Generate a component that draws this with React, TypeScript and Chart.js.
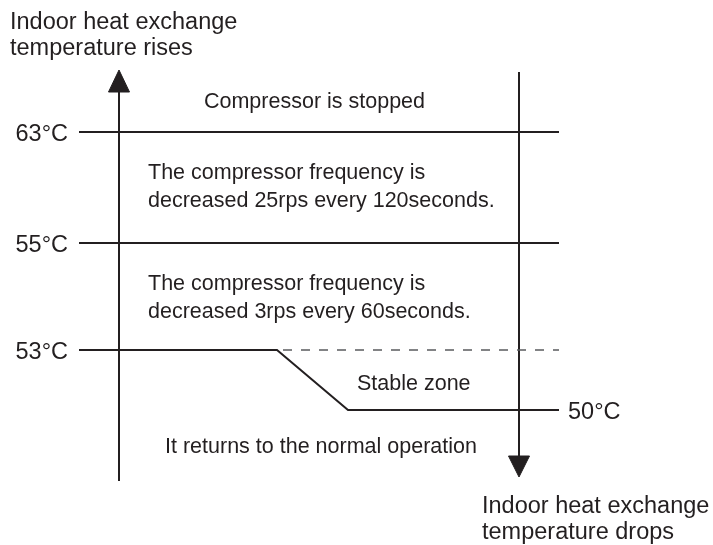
import React, { useEffect, useRef } from "react";
import { Chart, registerables } from "chart.js";

Chart.register(...registerables);

// ---- Diagram data (diagram units: x 0..713, y 0..545 downward) ----
const INK = "#231f20";
const DASH = "#5a5b5d";

// Temperature thresholds and their level on the vertical axis of the diagram
const tempLabels = ["63°C", "55°C", "53°C", "50°C"];
const tempLevels = [132, 243, 350, 410];

// Main axes (up arrow: rising temperature, down arrow: dropping temperature)
const upShaft = [{ x: 119, y: 481 }, { x: 119, y: 88 }];
const upHead = [{ x: 108.5, y: 92 }, { x: 119, y: 70 }, { x: 129.5, y: 92 }, { x: 108.5, y: 92 }];
const downShaft = [{ x: 519, y: 72 }, { x: 519, y: 460 }];
const downHead = [{ x: 508.5, y: 456 }, { x: 519, y: 477 }, { x: 529.5, y: 456 }, { x: 508.5, y: 456 }];

// Threshold lines
const line63 = [{ x: 79, y: tempLevels[0] }, { x: 559, y: tempLevels[0] }];
const line55 = [{ x: 79, y: tempLevels[1] }, { x: 559, y: tempLevels[1] }];
const line53to50 = [
  { x: 79, y: tempLevels[2] },
  { x: 277, y: tempLevels[2] },
  { x: 348, y: tempLevels[3] },
  { x: 559, y: tempLevels[3] },
];
const line53dashed = [{ x: 283, y: tempLevels[2] }, { x: 559, y: tempLevels[2] }];

// Texts
const riseTitle = ["Indoor heat exchange", "temperature rises"];
const dropTitle = ["Indoor heat exchange", "temperature drops"];
const zoneStop = "Compressor is stopped";
const zone25 = ["The compressor frequency is", "decreased 25rps every 120seconds."];
const zone3 = ["The compressor frequency is", "decreased 3rps every 60seconds."];
const zoneStable = "Stable zone";
const zoneNormal = "It returns to the normal operation";

type TextItem = { text: string; x: number; y: number; size: number; align: CanvasTextAlign };

const BIG = 23.5;
const BODY = 21.5;

const textItems: TextItem[] = [
  { text: riseTitle[0], x: 10, y: 29, size: BIG, align: "left" },
  { text: riseTitle[1], x: 10, y: 55, size: BIG, align: "left" },
  { text: dropTitle[0], x: 482, y: 513, size: BIG, align: "left" },
  { text: dropTitle[1], x: 482, y: 539, size: BIG, align: "left" },
  { text: zoneStop, x: 314.5, y: 108, size: BODY, align: "center" },
  { text: zone25[0], x: 148, y: 179, size: BODY, align: "left" },
  { text: zone25[1], x: 148, y: 207, size: BODY, align: "left" },
  { text: zone3[0], x: 148, y: 290, size: BODY, align: "left" },
  { text: zone3[1], x: 148, y: 318, size: BODY, align: "left" },
  { text: zoneStable, x: 357, y: 390, size: BODY, align: "left" },
  { text: zoneNormal, x: 165, y: 453, size: BODY, align: "left" },
  { text: tempLabels[0], x: 68, y: tempLevels[0] + 8.5, size: BIG, align: "right" },
  { text: tempLabels[1], x: 68, y: tempLevels[1] + 8.5, size: BIG, align: "right" },
  { text: tempLabels[2], x: 68, y: tempLevels[2] + 8.5, size: BIG, align: "right" },
  { text: tempLabels[3], x: 568, y: tempLevels[3] + 8.5, size: BIG, align: "left" },
];

const textPlugin = {
  id: "diagramText",
  afterDatasetsDraw(chart: any) {
    const { ctx, scales } = chart;
    const xs = scales.x;
    const ys = scales.y;
    ctx.save();
    ctx.fillStyle = INK;
    ctx.textBaseline = "alphabetic";
    for (const t of textItems) {
      ctx.font = `${t.size}px "Liberation Sans", Arial, sans-serif`;
      ctx.textAlign = t.align;
      ctx.fillText(t.text, xs.getPixelForValue(t.x), ys.getPixelForValue(t.y));
    }
    ctx.restore();
  },
};

function lineDs(data: { x: number; y: number }[], extra: any = {}) {
  return {
    data,
    borderColor: INK,
    borderWidth: 2,
    pointRadius: 0,
    pointHoverRadius: 0,
    tension: 0,
    fill: false,
    borderJoinStyle: "miter",
    ...extra,
  };
}

export default function App() {
  const ref = useRef<HTMLCanvasElement | null>(null);

  useEffect(() => {
    if (!ref.current) return;
    const chart = new Chart(ref.current, {
      type: "line",
      data: {
        datasets: [
          lineDs(line53dashed, { borderColor: DASH, borderWidth: 1.6, borderDash: [9, 9] }),
          lineDs(upShaft),
          lineDs(downShaft),
          lineDs(line63),
          lineDs(line55),
          lineDs(line53to50),
          lineDs(upHead, { fill: "shape", backgroundColor: INK, borderWidth: 1 }),
          lineDs(downHead, { fill: "shape", backgroundColor: INK, borderWidth: 1 }),
        ] as any,
      },
      options: {
        animation: false,
        responsive: false,
        devicePixelRatio: 1,
        layout: { padding: 0 },
        plugins: {
          legend: { display: false },
          tooltip: { enabled: false },
        },
        events: [],
        scales: {
          x: { type: "linear", min: 0, max: 713, display: false },
          y: { type: "linear", min: 0, max: 545, reverse: true, display: false },
        },
      },
      plugins: [textPlugin],
    });
    return () => chart.destroy();
  }, []);

  return (
    <div style={{ position: "fixed", left: 0, top: 0, width: 713, height: 545, background: "#fff" }}>
      <canvas ref={ref} width={713} height={545} style={{ width: 713, height: 545, display: "block" }} />
    </div>
  );
}
